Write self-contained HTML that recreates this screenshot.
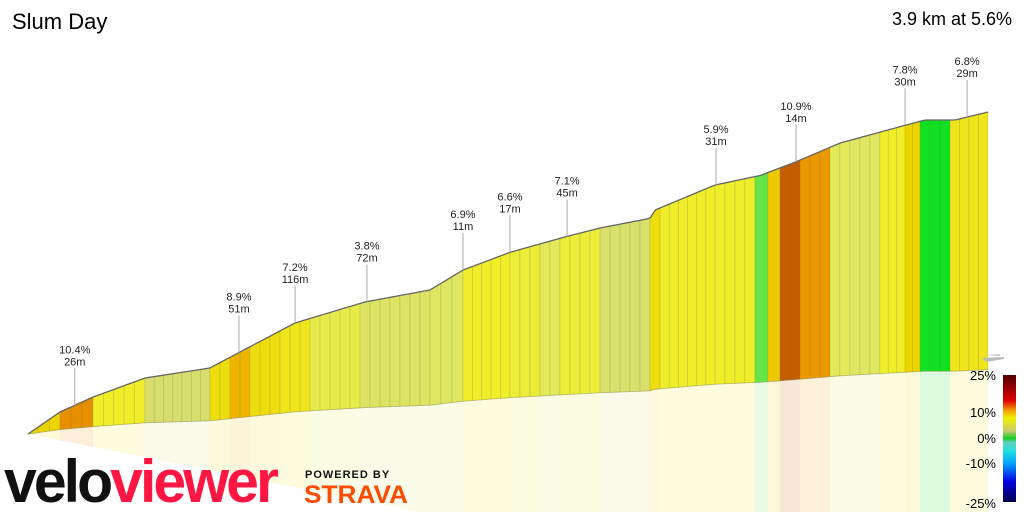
<!DOCTYPE html>
<html><head><meta charset="utf-8"><style>
html,body{margin:0;padding:0;background:#fff;width:1024px;height:512px;overflow:hidden;font-family:"Liberation Sans",sans-serif}
</style></head><body>
<svg id="chart" width="1024" height="512" viewBox="0 0 1024 512" xmlns="http://www.w3.org/2000/svg">
<defs>
<linearGradient id="cbar" x1="0" y1="1" x2="0" y2="0">
<stop offset="0" stop-color="#000050"/><stop offset="0.16" stop-color="#0000e0"/><stop offset="0.3" stop-color="#00a0ff"/><stop offset="0.4" stop-color="#20e0e0"/><stop offset="0.47" stop-color="#60d0c0"/><stop offset="0.5" stop-color="#10d020"/><stop offset="0.56" stop-color="#c8c870"/><stop offset="0.66" stop-color="#f0f000"/><stop offset="0.72" stop-color="#f0a000"/><stop offset="0.8" stop-color="#e00000"/><stop offset="1" stop-color="#500000"/>
</linearGradient>
</defs>
<text x="12" y="29" font-size="22" fill="#000">Slum Day</text>
<text x="1012" y="25" font-size="18" fill="#000" text-anchor="end">3.9 km at 5.6%</text>
<g id="reflect"></g>
<g id="segs"></g>
<g id="ann"></g>
<g><polygon points="982,358 1004,357 1004,359 986,362" fill="#bbb"/><polygon points="984,355 1000,354 1000,356" fill="#ccc"/></g>
<g>
<rect x="1003" y="375" width="13" height="127" fill="url(#cbar)"/>
<g font-size="13" text-anchor="end" fill="#000">
<text x="996" y="380">25%</text>
<text x="996" y="417">10%</text>
<text x="996" y="443">0%</text>
<text x="996" y="468">-10%</text>
<text x="996" y="508">-25%</text>
</g></g>
<g font-weight="bold" font-size="60" letter-spacing="-3">
<text x="4" y="502" fill="#111" textLength="272" lengthAdjust="spacingAndGlyphs">velo<tspan fill="#ff1744">viewer</tspan></text>
</g>
<text x="305" y="478" font-size="11" font-weight="bold" letter-spacing="1" fill="#111">POWERED BY</text>
<text x="304" y="503" font-size="25" font-weight="bold" fill="#fc4c02" textLength="104" lengthAdjust="spacingAndGlyphs">STRAVA</text>
</svg>
<script>
// profile (km, m)
const profDist=[0,0.13,0.264,0.475,0.739,0.861,1.085,1.369,1.633,1.767,1.958,2.194,2.324,2.527,2.547,2.791,2.974,3.116,3.299,3.563,3.644,3.766,3.9];
const profElev=[0,14.9,25,37.9,44.7,55.5,75.2,89.4,97.5,111,123,134,139.5,146,151.6,168.6,175,184,197,209,212.6,212.6,218];
// segment boundaries (km) and grades (%)
const segBounds=[0,0.13,0.264,0.475,0.739,0.821,0.902,1.024,1.146,1.349,1.633,1.767,1.958,2.08,2.161,2.324,2.527,2.568,2.791,2.953,3.006,3.055,3.136,3.258,3.339,3.461,3.563,3.624,3.746,3.9];
const segGrades=[7.5,10.4,6,3,7,8.9,7,6.5,5,3.8,4,6,5.5,4.5,5.5,3.2,7,6,5.9,1,8,12,10,4.5,4,6,7.5,0,6.5];
// annotations
const annDist=[0.19,0.857,1.085,1.377,1.767,1.958,2.19,2.795,3.12,3.563,3.815];
const annGrade=["10.4%","8.9%","7.2%","3.8%","6.9%","6.6%","7.1%","5.9%","10.9%","7.8%","6.8%"];
const annLen=["26m","51m","116m","72m","11m","17m","45m","31m","14m","30m","29m"];

const X0=28,XS=960/3.9,Y0=434,YS=1.477;
const xOf=d=>X0+d*XS;
function elevAt(d){for(let i=1;i<profDist.length;i++){if(d<=profDist[i]){const t=(d-profDist[i-1])/(profDist[i]-profDist[i-1]);return profElev[i-1]+t*(profElev[i]-profElev[i-1]);}}return profElev[profElev.length-1];}
const topY=d=>Y0-elevAt(d)*YS;
const botY=d=>Y0-elevAt(d)*YS*0.2;
const stops=[[0,[16,224,32]],[1.5,[140,230,90]],[3,[216,222,110]],[4.5,[226,234,90]],[6,[240,238,40]],[7.5,[236,212,0]],[9,[238,178,0]],[10.5,[232,140,0]],[12,[196,92,0]],[25,[96,0,0]]];
function col(g){for(let i=1;i<stops.length;i++){if(g<=stops[i][0]){const t=(g-stops[i-1][0])/(stops[i][0]-stops[i-1][0]);const a=stops[i-1][1],b=stops[i][1];return 'rgb('+a.map((v,k)=>Math.round(v+t*(b[k]-v))).join(',')+')';}}return 'rgb(96,0,0)';}
const NS='http://www.w3.org/2000/svg';
const segs=document.getElementById('segs'),refl=document.getElementById('reflect'),ann=document.getElementById('ann');
function mk(tag,at,parent){const e=document.createElementNS(NS,tag);for(const k in at)e.setAttribute(k,at[k]);parent.appendChild(e);return e;}
for(let i=0;i<segGrades.length;i++){
  const d0=segBounds[i],d1=segBounds[i+1];
  const n=Math.max(1,Math.round((d1-d0)/0.04));
  const c=col(segGrades[i]);
  for(let j=0;j<n;j++){
    const a=d0+(d1-d0)*j/n,b=d0+(d1-d0)*(j+1)/n;
    const pts=[];const m=4;
    for(let k=0;k<=m;k++){const d=a+(b-a)*k/m;pts.push(xOf(d)+','+topY(d));}
    for(let k=m;k>=0;k--){const d=a+(b-a)*k/m;pts.push(xOf(d)+','+botY(d));}
    const p=mk('polygon',{points:pts.join(' '),fill:c,stroke:'rgba(90,90,40,0.2)','stroke-width':0.7},segs);
    
    
    const rp=[xOf(a)+','+botY(a),xOf(b)+','+botY(b),xOf(b)+',512',xOf(a)+',512'];
    const r=mk('polygon',{points:rp.join(' '),fill:c,opacity:0.15},refl);
    
    
  }
}
const cut=mk('polygon',{points:X0+','+Y0+' 420,512 0,512 0,'+Y0,fill:'#fff'},refl);


const lp=[];for(let d=0;d<=3.9001;d+=0.01)lp.push(xOf(d)+','+topY(d));
const line=mk('polyline',{points:lp.join(' '),fill:'none',stroke:'#666','stroke-width':1.3},segs);


const bl=[];for(let d=0;d<=3.9001;d+=0.02)bl.push(xOf(d)+','+botY(d));
const bline=mk('polyline',{points:bl.join(' '),fill:'none',stroke:'rgba(150,150,80,0.5)','stroke-width':0.8},segs);


for(let i=0;i<annDist.length;i++){
  const x=xOf(annDist[i]),y=topY(annDist[i]);
  const g=mk('g',{},ann);
  
  
  mk('line',{x1:x,y1:y-37,x2:x,y2:y,stroke:'#aaa','stroke-width':1},g);
  const t1=mk('text',{x:x,y:y-52,'font-size':11,'text-anchor':'middle',fill:'#222'},g);t1.textContent=annGrade[i];
  const t2=mk('text',{x:x,y:y-40,'font-size':11,'text-anchor':'middle',fill:'#222'},g);t2.textContent=annLen[i];
}
</script>
</body></html>
